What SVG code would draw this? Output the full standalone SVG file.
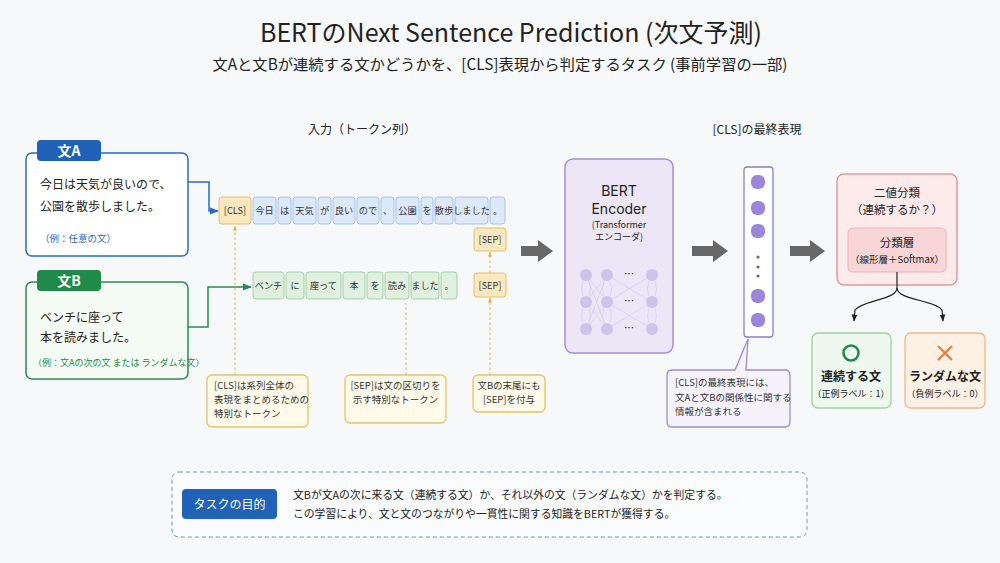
<svg xmlns="http://www.w3.org/2000/svg" width="1000" height="563" viewBox="0 0 1000 563">
<defs>
<style>
text{font-family:"Noto Sans CJK JP","Noto Sans",sans-serif;fill:#222}
.c{text-anchor:middle}
.tk{font-size:9.2px;fill:#333;text-anchor:middle}
.tb{fill:#dde9f8;stroke:#a8c3e6;stroke-width:1}
.tg{fill:#dff0de;stroke:#a6d1a6;stroke-width:1}
.ts{fill:#fbe8bf;stroke:#e3bf6e;stroke-width:1}
.note{fill:#fffaea;stroke:#e6c463;stroke-width:1.3}
.nt{font-size:9.5px;fill:#333}
.gar{fill:#676767}
.dash{stroke:#e0b24a;stroke-width:1;stroke-dasharray:2.5 2.5;fill:none}
.nn{fill:#cfc3ec}
.nl{stroke:#d6cdef;stroke-width:0.7;fill:none}
.vec{fill:#9c86da}
.enc{font-family:Inter,"Noto Sans",sans-serif;font-size:14px}
</style>
<marker id="ab" viewBox="0 0 10 10" refX="9" refY="5" markerWidth="6" markerHeight="6" orient="auto"><path d="M0,1 L10,5 L0,9 z" fill="#2a6bbf"/></marker>
<marker id="ag" viewBox="0 0 10 10" refX="9" refY="5" markerWidth="6" markerHeight="6" orient="auto"><path d="M0,1 L10,5 L0,9 z" fill="#2a8a52"/></marker>
<marker id="ao" viewBox="0 0 10 10" refX="9" refY="5" markerWidth="5" markerHeight="5" orient="auto"><path d="M0,1 L10,5 L0,9 z" fill="#e0b24a"/></marker>
<marker id="ak" viewBox="0 0 10 10" refX="9" refY="5" markerWidth="6" markerHeight="6" orient="auto"><path d="M0,1 L10,5 L0,9 z" fill="#222"/></marker>
</defs>
<rect width="1000" height="563" fill="#f7f8fa"/>

<g id="title">
<text x="511" y="42" class="c" font-size="25" fill="#1a1f2e">BERTのNext Sentence Prediction (次文予測)</text>
<text x="500" y="70" class="c" font-size="15.3" fill="#222">文Aと文Bが連続する文かどうかを、[CLS]表現から判定するタスク (事前学習の一部)</text>
</g>

<g id="section-labels">
<text x="362" y="134" class="c" font-size="12">入力（トークン列）</text>
<text x="757" y="134" class="c" font-size="12">[CLS]の最終表現</text>
</g>

<g id="sentenceA">
<rect x="26" y="153" width="162" height="103" rx="6" fill="#fff" stroke="#2a6bbf" stroke-width="1.5"/>
<rect x="37" y="140" width="64" height="21" rx="4" fill="#1f62b8"/>
<text x="69" y="156" class="c" font-size="14" font-weight="bold" style="fill:#fff">文A</text>
<text x="40" y="189" font-size="12">今日は天気が良いので、</text>
<text x="40" y="211" font-size="12">公園を散歩しました。</text>
<text x="40" y="242" font-size="9.5" style="fill:#2a6bbf">（例：任意の文）</text>
</g>

<g id="sentenceB">
<rect x="26" y="282" width="162" height="97" rx="6" fill="#f4faf4" stroke="#2a8a52" stroke-width="1.5"/>
<rect x="37" y="270" width="64" height="21" rx="4" fill="#1f8a4a"/>
<text x="69" y="286" class="c" font-size="14" font-weight="bold" style="fill:#fff">文B</text>
<text x="40" y="322" font-size="12">ベンチに座って</text>
<text x="40" y="342" font-size="12">本を読みました。</text>
<text x="33" y="366" font-size="9" style="fill:#2a8a52">（例：文Aの次の文 または ランダムな文）</text>
</g>

<g id="tokensA">
<rect class="ts" x="219" y="197" width="32" height="27" rx="3"/><text class="tk" x="235" y="214">[CLS]</text>
<rect class="tb" x="253" y="197" width="23" height="27" rx="3"/><text class="tk" x="264.5" y="214">今日</text>
<rect class="tb" x="278" y="197" width="13" height="27" rx="3"/><text class="tk" x="284.5" y="214">は</text>
<rect class="tb" x="293" y="197" width="23" height="27" rx="3"/><text class="tk" x="304.5" y="214">天気</text>
<rect class="tb" x="318" y="197" width="13" height="27" rx="3"/><text class="tk" x="324.5" y="214">が</text>
<rect class="tb" x="333" y="197" width="22" height="27" rx="3"/><text class="tk" x="344" y="214">良い</text>
<rect class="tb" x="357" y="197" width="22" height="27" rx="3"/><text class="tk" x="368" y="214">ので</text>
<rect class="tb" x="381" y="197" width="13" height="27" rx="3"/><text class="tk" x="387.5" y="214">、</text>
<rect class="tb" x="396" y="197" width="23" height="27" rx="3"/><text class="tk" x="407.5" y="214">公園</text>
<rect class="tb" x="421" y="197" width="12" height="27" rx="3"/><text class="tk" x="427" y="214">を</text>
<rect class="tb" x="435" y="197" width="18" height="27" rx="3"/><text class="tk" x="444" y="214">散歩</text>
<rect class="tb" x="455" y="197" width="33" height="27" rx="3"/><text class="tk" x="471.5" y="214">しました</text>
<rect class="tb" x="490" y="197" width="15" height="27" rx="3"/><text class="tk" x="497.5" y="214">。</text>
</g>

<g id="tokensB">
<rect class="tg" x="253" y="272" width="31" height="27" rx="3"/><text class="tk" x="268.5" y="289">ベンチ</text>
<rect class="tg" x="286" y="272" width="18" height="27" rx="3"/><text class="tk" x="295" y="289">に</text>
<rect class="tg" x="306" y="272" width="35" height="27" rx="3"/><text class="tk" x="323.5" y="289">座って</text>
<rect class="tg" x="343" y="272" width="22" height="27" rx="3"/><text class="tk" x="354" y="289">本</text>
<rect class="tg" x="367" y="272" width="16" height="27" rx="3"/><text class="tk" x="375" y="289">を</text>
<rect class="tg" x="385" y="272" width="24" height="27" rx="3"/><text class="tk" x="397" y="289">読み</text>
<rect class="tg" x="411" y="272" width="28" height="27" rx="3"/><text class="tk" x="425" y="289">ました</text>
<rect class="tg" x="441" y="272" width="16" height="27" rx="3"/><text class="tk" x="449" y="289">。</text>
</g>

<g id="sep-tokens">
<rect class="ts" x="474" y="228" width="32" height="23" rx="3"/><text class="tk" x="490" y="243">[SEP]</text>
<rect class="ts" x="474" y="273" width="32" height="24" rx="3"/><text class="tk" x="490" y="289">[SEP]</text>
</g>

<g id="notes">
<rect class="note" x="207" y="375" width="101" height="52" rx="5"/>
<text class="nt" x="214" y="389">[CLS]は系列全体の</text>
<text class="nt" x="214" y="403">表現をまとめるための</text>
<text class="nt" x="214" y="417">特別なトークン</text>
<rect class="note" x="345" y="375" width="101" height="48" rx="5"/>
<text class="nt c" x="395.5" y="389">[SEP]は文の区切りを</text>
<text class="nt c" x="395.5" y="403">示す特別なトークン</text>
<rect class="note" x="473" y="375" width="72" height="37" rx="5"/>
<text class="nt c" x="509" y="389">文Bの末尾にも</text>
<text class="nt c" x="509" y="403">[SEP]を付与</text>
</g>

<g id="encoder">
<rect x="565" y="159" width="108" height="194" rx="8" fill="#ece6f7" stroke="#a48fd6" stroke-width="1.5"/>
<text x="619" y="196" class="c enc">BERT</text>
<text x="619" y="213.5" class="c enc">Encoder</text>
<text x="619" y="228" class="c" font-size="9">(Transformer</text>
<text x="619" y="240" class="c" font-size="9">エンコーダ)</text>
<path class="nl" d="M586,275 L607,302 M586,302 L607,275 M586,302 L607,329 M586,329 L607,302 M586,275 L607,329 M586,329 L607,275 M607,275 L652,302 M607,302 L652,275 M607,302 L652,329 M607,329 L652,302"/>
<path class="nl" d="M583,281 Q580,288.5 583,296 M589,281 Q592,288.5 589,296 M604,281 Q601,288.5 604,296 M610,281 Q613,288.5 610,296 M649,281 Q646,288.5 649,296 M655,281 Q658,288.5 655,296 M583,308 Q580,315.5 583,323 M589,308 Q592,315.5 589,323 M604,308 Q601,315.5 604,323 M610,308 Q613,315.5 610,323 M649,308 Q646,315.5 649,323 M655,308 Q658,315.5 655,323"/>
<circle class="nn" cx="586" cy="275" r="6"/><circle class="nn" cx="607" cy="275" r="6"/><circle class="nn" cx="652" cy="275" r="6"/>
<circle class="nn" cx="586" cy="302" r="6"/><circle class="nn" cx="607" cy="302" r="6"/><circle class="nn" cx="652" cy="302" r="6"/>
<circle class="nn" cx="586" cy="329" r="6"/><circle class="nn" cx="607" cy="329" r="6"/><circle class="nn" cx="652" cy="329" r="6"/>
<text x="629" y="278" class="c" font-size="10" fill="#666">…</text>
<text x="629" y="305" class="c" font-size="10" fill="#666">…</text>
<text x="629" y="332" class="c" font-size="10" fill="#666">…</text>
</g>

<g id="cls-vector">
<rect x="744" y="167" width="29" height="170" rx="3" fill="#fff" stroke="#8f7fc4" stroke-width="1.3"/>
<rect class="vec" x="751" y="175" width="14" height="14" rx="6"/>
<rect class="vec" x="751" y="201" width="14" height="14" rx="6"/>
<rect class="vec" x="751" y="224" width="14" height="14" rx="6"/>
<circle cx="758" cy="257" r="1.6" fill="#6e5cb0"/>
<circle cx="758" cy="267" r="1.6" fill="#6e5cb0"/>
<circle cx="758" cy="276" r="1.6" fill="#6e5cb0"/>
<rect class="vec" x="751" y="289" width="14" height="14" rx="6"/>
<rect class="vec" x="751" y="313" width="14" height="14" rx="6"/>
</g>

<g id="cls-callout">
<path d="M672,370 L735,370 L748,339 L746,370 L785,370 Q790,370 790,375 L790,422 Q790,427 785,427 L672,427 Q667,427 667,422 L667,375 Q667,370 672,370 Z" fill="#f5f2fc" stroke="#9c8ccc" stroke-width="1.3"/>
<text class="nt" x="675" y="386">[CLS]の最終表現には、</text>
<text class="nt" x="675" y="401">文Aと文Bの関係性に関する</text>
<text class="nt" x="675" y="415">情報が含まれる</text>
</g>

<g id="classifier">
<rect x="837" y="174" width="120" height="111" rx="7" fill="#fdeaea" stroke="#e09a9e" stroke-width="1.5"/>
<text x="897" y="197" class="c" font-size="11.5">二値分類</text>
<text x="897" y="214" class="c" font-size="11.5">（連続するか？）</text>
<rect x="848" y="228" width="98" height="44" rx="5" fill="#f8d6d8" stroke="#eab0b4" stroke-width="1"/>
<text x="897" y="247" class="c" font-size="11.5">分類層</text>
<text x="897" y="263" class="c" font-size="9.5">（線形層＋Softmax）</text>
</g>

<g id="result-positive">
<rect x="812" y="333" width="79" height="75" rx="6" fill="#eef8ee" stroke="#9fd29f" stroke-width="1.3"/>
<circle cx="851" cy="353" r="7.5" fill="none" stroke="#1f8a4a" stroke-width="2.5"/>
<text x="851" y="381" class="c" font-size="12" font-weight="bold">連続する文</text>
<text x="851" y="397" class="c" font-size="9">（正例ラベル：1）</text>
</g>

<g id="result-negative">
<rect x="905" y="333" width="80" height="75" rx="6" fill="#fdf1e6" stroke="#f0b888" stroke-width="1.3"/>
<path d="M938,346 L952,360 M952,346 L938,360" stroke="#ee7d33" stroke-width="2.2" fill="none"/>
<text x="945" y="381" class="c" font-size="12" font-weight="bold">ランダムな文</text>
<text x="945" y="397" class="c" font-size="9">（負例ラベル：0）</text>
</g>

<g id="task-goal">
<rect x="172" y="472" width="635" height="65" rx="7" fill="#fafbfd" stroke="#6f93c8" stroke-width="1" stroke-dasharray="4 3"/>
<rect x="182" y="489" width="95" height="30" rx="4" fill="#1f62b8"/>
<text x="229.5" y="509" class="c" font-size="12" style="fill:#fff">タスクの目的</text>
<text x="293" y="499" font-size="10.8">文Bが文Aの次に来る文（連続する文）か、それ以外の文（ランダムな文）かを判定する。</text>
<text x="293" y="518" font-size="10.8">この学習により、文と文のつながりや一貫性に関する知識をBERTが獲得する。</text>
</g>

<g id="connectors">
<path d="M188,182 L209,182 L209,211 L218,211" stroke="#2a6bbf" stroke-width="1.5" fill="none" marker-end="url(#ab)"/>
<path d="M188,327 L208,327 L208,287 L251,287" stroke="#2a8a52" stroke-width="1.5" fill="none" marker-end="url(#ag)"/>
<path class="dash" d="M235,375 L235,226" marker-end="url(#ao)"/>
<path class="dash" d="M406,375 L406,303"/>
<path class="dash" d="M490,375 L490,298" marker-end="url(#ao)"/>
<path class="dash" d="M490,273 L490,252" marker-end="url(#ao)"/>
<polygon class="gar" points="521,246 538,246 538,240 553,251 538,262 538,256 521,256"/>
<polygon class="gar" points="692,246 713,246 713,240 728,251 713,262 713,256 692,256"/>
<polygon class="gar" points="790,246 810,246 810,240 825,251 810,262 810,256 790,256"/>
<path d="M897,272 L897,288 C897,300 862,300 855,310 L854,321" stroke="#222" stroke-width="1.2" fill="none" marker-end="url(#ak)"/>
<path d="M897,288 C897,300 935,300 942,310 L943,321" stroke="#222" stroke-width="1.2" fill="none" marker-end="url(#ak)"/>
</g>
</svg>
